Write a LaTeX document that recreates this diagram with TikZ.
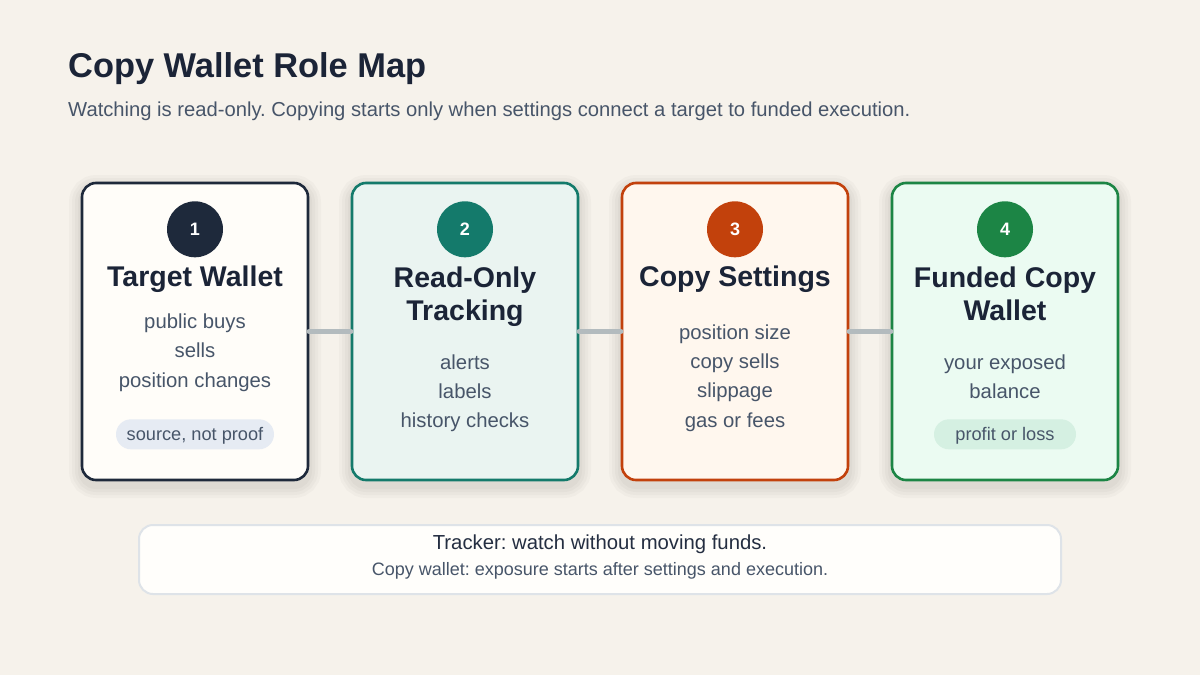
\documentclass[tikz,border=0pt]{standalone}
\usepackage{fontspec}
\setmainfont{Liberation Sans}
\frenchspacing
\definecolor{bg}{HTML}{F6F2EB}
\definecolor{ink}{HTML}{1B2437}
\definecolor{bodyc}{HTML}{475569}
\definecolor{bA}{HTML}{1E293B}\definecolor{fA}{HTML}{FFFDF9}
\definecolor{bB}{HTML}{147A6B}\definecolor{fB}{HTML}{EAF4F1}
\definecolor{bC}{HTML}{C2410C}\definecolor{fC}{HTML}{FFF7EE}
\definecolor{bD}{HTML}{1C8545}\definecolor{fD}{HTML}{EBFBF2}
\definecolor{pillA}{HTML}{E6EBF3}
\definecolor{pillD}{HTML}{D5F0E2}
\definecolor{linkc}{HTML}{B3BBBE}
\definecolor{noteF}{HTML}{FFFEFB}
\definecolor{noteB}{HTML}{DEE3E8}
\tikzset{
  shl/.style={preaction={draw=black, draw opacity=0.022, line width=#1, transform canvas={yshift=-5pt}}},
  card/.style={rectangle, rounded corners=14pt, minimum width=226pt, minimum height=297pt,
    line width=2.6pt, inner sep=0pt, shl=26pt, shl=20pt, shl=14pt, shl=8pt},
  numc/.style={circle, minimum size=56pt, inner sep=0pt, text=white, text height=13pt, text depth=0pt,
    font=\fontsize{18}{20}\selectfont\bfseries},
  head/.style={anchor=base, text=ink, font=\fontsize{28.5}{33}\selectfont\bfseries, inner sep=0pt},
  bodyt/.style={anchor=base, text=bodyc, font=\fontsize{20.3}{24}\selectfont, inner sep=0pt},
  pill/.style={rectangle, rounded corners=15pt, minimum height=30pt, inner sep=0pt, text=bodyc,
    text height=13pt, text depth=0pt, font=\fontsize{18.2}{22}\selectfont},
  link/.style={line width=5.5pt, draw=linkc, line cap=round},
  notet/.style={anchor=base, text=bodyc, inner sep=0pt},
}
\begin{document}
\begin{tikzpicture}[x=1pt,y=-1pt]
\fill[bg] (0,0) rectangle (1200,675);
\useasboundingbox (0,0) rectangle (1200,675);

% title
\node[anchor=base west, inner sep=0pt, text=ink, font=\fontsize{34.4}{40}\selectfont\bfseries] (title) at (68,77.3) {Copy Wallet Role Map};
\node[anchor=base west, inner sep=0pt, text=bodyc, font=\fontsize{20.2}{24}\selectfont] (subtitle) at (68,116) {Watching is read-only. Copying starts only when settings connect a target to funded execution.};

% cards
\node[card, draw=bA, fill=fA] (card1) at (195,331.5) {};
\node[card, draw=bB, fill=fB] (card2) at (465,331.5) {};
\node[card, draw=bC, fill=fC] (card3) at (735,331.5) {};
\node[card, draw=bD, fill=fD] (card4) at (1005,331.5) {};

% connectors
\draw[link] (card1.east) -- (card2.west);
\draw[link] (card2.east) -- (card3.west);
\draw[link] (card3.east) -- (card4.west);

% number badges
\node[numc, fill=bA] (n1) at (195,229.3) {1};
\node[numc, fill=bB] (n2) at (465,229.3) {2};
\node[numc, fill=bC] (n3) at (735,229.3) {3};
\node[numc, fill=bD] (n4) at (1005,229.3) {4};

% card 1
\node[head] (h1) at (195,286.7) {Target Wallet};
\node[bodyt] (a1) at (195,328.3) {public buys};
\node[bodyt] (a2) at (195,357.8) {sells};
\node[bodyt] (a3) at (195,387.3) {position changes};
\node[pill, fill=pillA, minimum width=158pt] (p1) at (195,434.3) {source, not proof};

% card 2
\node[head] (h2a) at (465,287.3) {Read-Only};
\node[head] (h2b) at (465,320.8) {Tracking};
\node[bodyt] (b1) at (465,369) {alerts};
\node[bodyt] (b2) at (465,398.3) {labels};
\node[bodyt] (b3) at (465,427.6) {history checks};

% card 3
\node[head] (h3) at (735,286.7) {Copy Settings};
\node[bodyt] (c1) at (735,339.3) {position size};
\node[bodyt] (c2) at (735,368.6) {copy sells};
\node[bodyt] (c3) at (735,397.9) {slippage};
\node[bodyt] (c4) at (735,427.2) {gas or fees};

% card 4
\node[head] (h4a) at (1005,287.3) {Funded Copy};
\node[head] (h4b) at (1005,320.8) {Wallet};
\node[bodyt] (d1) at (1005,369) {your exposed};
\node[bodyt] (d2) at (1005,398.3) {balance};
\node[pill, fill=pillD, minimum width=142pt] (p4) at (1005,434.3) {profit or loss};

% note box
\node[rectangle, rounded corners=14pt, minimum width=922pt, minimum height=69pt, fill=noteF, draw=noteB, line width=2pt] (note) at (600,559.5) {};
\node[notet, font=\fontsize{20.3}{24}\selectfont, text=ink!80!bodyc] (note1) at (600,549.3) {Tracker: watch without moving funds.};
\node[notet, font=\fontsize{18}{22}\selectfont] (note2) at (600,575.7) {Copy wallet: exposure starts after settings and execution.};
\end{tikzpicture}
\end{document}
